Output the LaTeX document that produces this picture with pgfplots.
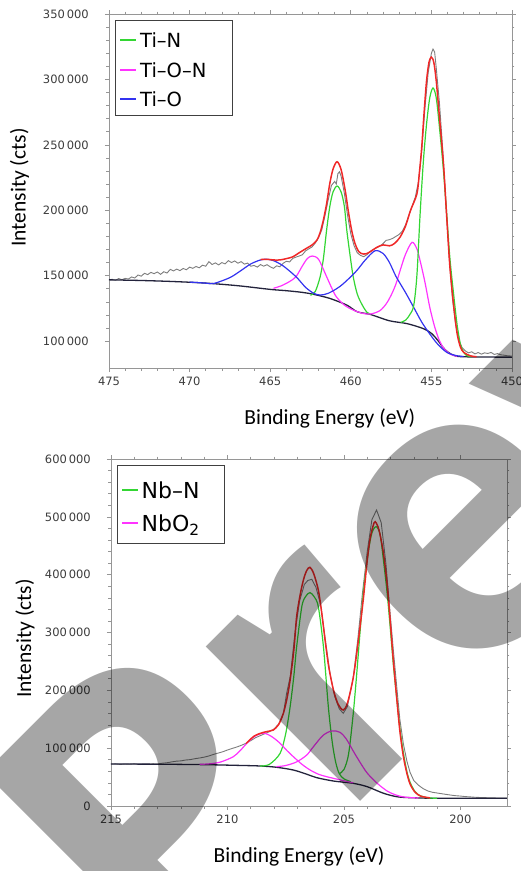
\documentclass[border=0pt]{standalone}
\usepackage{fontspec}
\setmainfont{Carlito}
\newfontfamily\tickfont{DejaVu Sans}
\newfontfamily\legfont{DejaVu Sans}
\newfontfamily\wmfont{Open Sans}
\usepackage{pgfplots}
\pgfplotsset{compat=1.18}

\definecolor{fitgreen}{RGB}{51,214,51}
\definecolor{fitmag}{RGB}{255,51,255}
\definecolor{fitblue}{RGB}{51,51,240}
\definecolor{fitred}{RGB}{240,40,40}
\definecolor{rawgray}{RGB}{125,125,125}
\definecolor{bgline}{RGB}{35,35,60}
\definecolor{axisgray}{RGB}{150,150,150}
\definecolor{ticktext}{RGB}{60,60,60}

\pgfplotsset{
  xps/.style={
    scale only axis,
    x dir=reverse,
    axis line style={draw=axisgray, line width=0.8pt},
    tick align=outside,
    xtick pos=both, ytick pos=both,
    major tick length=4pt, minor tick length=2.5pt,
    tick style={draw=axisgray, line width=0.6pt},
    minor x tick num=4, minor y tick num=4,
    ticklabel style={font=\tickfont\fontsize{11.5}{13}\selectfont, text=ticktext, inner sep=0pt},
    yticklabel style={xshift=-16pt},
    xticklabel style={yshift=-5pt},
    scaled y ticks=false,
    /pgf/number format/fixed,
    /pgf/number format/1000 sep={\,},
    /pgf/number format/assume math mode=true,
    label style={font=\fontsize{21.5}{23}\selectfont},
  },
}
\tikzset{
  rawline/.style={rawgray, line width=0.9pt},
  bgfit/.style={bgline, line width=1.3pt, smooth},
  comp/.style={#1, line width=1.2pt, smooth},
  envfit/.style={fitred, line width=1.5pt, smooth},
  legbox/.style={draw=black!75, line width=0.8pt, fill=white},
  legline/.style={#1, line width=1.3pt},
}

\begin{document}
\begin{tikzpicture}
\useasboundingbox (0pt,0pt) rectangle (520pt,-871pt);

% ---------------- Ti 2p ----------------
\begin{axis}[xps, name=ti,
  at={(109pt,-14pt)}, anchor=north west,
  width=403pt, height=354pt,
  xmin=450, xmax=475, ymin=79400, ymax=350000,
  xtick={450,455,...,475},
  ytick={100000,150000,...,350000},
  xlabel={Binding Energy (eV)},
  xlabel style={at={(axis description cs:0.548,0)}, anchor=center, yshift=-50.5pt},
  ylabel={Intensity (cts)},
  ylabel style={at={(axis description cs:-0.222,0.51)}, anchor=center},
]
\addplot[rawline] coordinates {
(475.0,146800)(474.8,147200)(474.6,146500)(474.4,147800)(474.2,146900)(474.0,147900)
(473.8,147400)(473.6,149000)(473.4,148200)(473.2,150500)(473.0,149600)(472.8,151800)
(472.6,150800)(472.4,152500)(472.2,151500)(472.0,152800)(471.8,151000)(471.6,153000)
(471.4,152000)(471.2,154800)(471.0,153600)(470.8,155000)(470.6,153800)(470.4,155500)
(470.2,154500)(470.0,156500)(469.8,155600)(469.6,157000)(469.4,156000)(469.2,158000)
(469.0,157200)(468.8,160700)(468.6,158500)(468.4,159800)(468.2,158200)(468.0,160000)
(467.8,159000)(467.6,161500)(467.4,160000)(467.2,161200)(467.0,159500)(466.8,160700)
(466.6,158800)(466.4,159600)(466.2,157200)(466.0,157800)(465.8,156500)(465.6,158500)
(465.4,157200)(465.2,158400)(465.0,156800)(464.8,155600)(464.6,157500)(464.4,156800)
(464.2,159400)(464.0,161000)(463.8,160500)(463.6,163200)(463.4,164200)(463.2,165000)
(463.0,166000)(462.8,169000)(462.6,170500)(462.4,172000)(462.2,175000)(462.0,179000)
(461.8,185000)(461.6,196000)(461.4,208000)(461.2,219000)(461.0,222000)(460.9,220000)
(460.8,228000)(460.7,229400)(460.6,226000)(460.4,213000)(460.2,196000)(460.0,182000)
(459.8,173000)(459.6,167500)(459.4,165500)(459.2,164500)(459.0,166000)(458.8,168500)
(458.6,170000)(458.4,171500)(458.2,172500)(458.0,174500)(457.8,177000)(457.6,177500)
(457.4,178500)(457.2,180000)(457.0,181500)(456.8,184000)(456.6,189000)(456.4,196000)
(456.2,203000)(456.0,210000)(455.8,222000)(455.6,245000)(455.4,278000)(455.2,305000)
(455.0,320000)(454.9,323200)(454.8,321000)(454.7,309000)(454.5,282000)(454.3,247000)
(454.1,205000)(453.9,165000)(453.7,133000)(453.5,113000)(453.3,101000)(453.1,95000)
(452.9,92500)(452.7,91000)(452.5,91800)(452.3,90200)(452.1,91200)(451.9,90000)
(451.7,91000)(451.5,90500)(451.3,91300)(451.1,89800)(450.9,90400)(450.7,89500)
(450.5,89200)(450.3,88800)(450.0,88500)
};
\addplot[bgfit] coordinates {
(475,146800)(473,146300)(471,145500)(469,144300)(467,142300)(465,139500)(464,138500)
(463,137200)(462.3,135700)(461.3,132600)(460.25,127500)(459.6,122400)(458.8,120400)
(457.6,115500)(456.5,113300)(455.5,109500)(455,105900)(454.6,100500)(454.3,95500)
(454,91800)(453.6,89000)(453.2,88100)(452,87800)(450,87700)
};
\addplot[comp=fitgreen] coordinates {
(462.5,135000)(462.2,138000)(461.9,149200)(461.7,163000)(461.5,184900)(461.3,203000)
(461.1,214000)(460.85,218500)(460.6,214000)(460.4,203000)(460.25,184900)(460.05,166000)
(459.85,149200)(459.6,136000)(459.3,127800)(459.0,122000)(458.8,120800)
};
\addplot[comp=fitmag] coordinates {
(464.8,140300)(464.3,142300)(463.8,145500)(463.4,149200)(463.0,157500)(462.7,163000)
(462.4,165000)(462.0,162500)(461.5,149200)(461.2,141000)(460.9,133900)(460.4,127500)
(459.85,123700)(459.3,121300)(458.8,120600)(458.2,123200)(457.8,128500)(457.5,135000)
(457.2,143600)(456.9,155500)(456.6,166500)(456.2,175500)(455.9,170500)(455.7,161400)
(455.4,145000)(455.1,125800)(454.8,111000)(454.5,100300)(454.2,94000)(453.85,90100)
(453.4,88300)
};
\addplot[comp=fitblue] coordinates {
(470.0,145100)(469.0,144300)(468.5,144000)(467.5,148500)(466.8,154000)(466.2,159000)
(465.6,162000)(465.2,162500)(464.8,161500)(464.2,157500)(463.4,149200)(462.8,141000)
(462.3,136500)(461.9,135200)(461.4,136500)(460.7,141500)(460.1,148000)(459.6,154300)
(459.1,162000)(458.5,169000)(458.0,167000)(457.6,160000)(457.2,149500)(456.6,137000)
(456.1,125800)(455.6,114500)(455.1,105400)(454.6,97500)(454.05,91400)(453.5,89000)
(453.0,88200)
};
\addplot[comp=fitgreen] coordinates {
(456.9,114300)(456.6,116000)(456.35,120000)(456.1,127000)(455.9,150000)(455.7,197100)
(455.5,237000)(455.3,265900)(455.1,286000)(454.9,293400)(454.7,286000)(454.5,263400)
(454.25,230000)(454.05,197100)(453.85,163000)(453.6,133400)(453.4,112000)(453.2,97700)
(453.0,91500)(452.8,88800)(452.5,88000)
};
\addplot[envfit] coordinates {
(465.6,162300)(465.2,162500)(464.8,162000)(464.4,162000)(464.0,163000)(463.6,164400)
(463.2,167500)(462.75,170900)(462.4,173500)(462.1,177200)(461.9,183000)(461.7,192500)
(461.5,205000)(461.3,220600)(461.1,231500)(460.85,237100)(460.6,231000)(460.35,215400)
(460.15,199000)(459.95,184900)(459.75,175000)(459.5,168300)(459.2,166500)(458.9,167500)
(458.4,171500)(458.0,173500)(457.6,172800)(457.3,174500)(456.95,179300)(456.6,188000)
(456.3,199700)(455.9,212400)(455.75,228000)(455.6,248100)(455.45,275000)(455.3,299000)
(455.15,313000)(455.0,317000)(454.85,313000)(454.7,299000)(454.5,271000)(454.25,235300)
(454.05,195000)(453.85,156400)(453.6,125000)(453.4,105400)(453.2,95500)(453.0,91400)
(452.6,88800)(452.2,88000)
};
\end{axis}

% legend, Ti 2p
\begin{scope}[shift={(ti.north west)}, every node/.style={anchor=base west, inner sep=0pt,
    font=\legfont\fontsize{19.5}{20}\selectfont}]
  \draw[legbox] (6pt,-6.7pt) rectangle (123pt,-101pt);
  \draw[legline=fitgreen] (11pt,-26pt) -- (27pt,-26pt);
  \draw[legline=fitmag]   (11pt,-56pt) -- (27pt,-56pt);
  \draw[legline=fitblue]  (11pt,-85pt) -- (27pt,-85pt);
  \node at (31pt,-33.2pt) {Ti–N};
  \node at (31pt,-63.2pt) {Ti–O–N};
  \node at (31pt,-92.2pt) {Ti–O};
\end{scope}

% ---------------- Nb 3d ----------------
\begin{axis}[xps, name=nb,
  at={(111pt,-459pt)}, anchor=north west,
  width=396pt, height=347pt,
  xmin=198, xmax=215, ymin=0, ymax=600000,
  xtick={200,205,210,215},
  ytick={0,100000,...,600000},
  xlabel={Binding Energy (eV)},
  xlabel style={at={(axis description cs:0.475,0)}, anchor=center, yshift=-50.5pt},
  ylabel={Intensity (cts)},
  ylabel style={at={(axis description cs:-0.217,0.483)}, anchor=center},
]
\addplot[rawline] coordinates {
(215.0,72500)(214.8,72800)(214.6,71900)(214.4,72600)(214.2,72200)(214.0,72900)
(213.8,71800)(213.6,72500)(213.4,72300)(213.2,73200)(213.0,72800)(212.8,74000)
(212.6,74800)(212.4,76200)(212.2,77500)(212.0,78000)(211.8,79500)(211.6,80200)
(211.4,81800)(211.2,83000)(211.0,84500)(210.8,86500)(210.6,89200)(210.4,91500)
(210.2,93800)(210.0,96800)(209.8,99500)(209.6,102000)(209.4,105000)(209.2,108500)
(209.0,113000)(208.8,118000)(208.6,121500)(208.4,125000)(208.2,128500)(208.0,133000)
(207.8,142000)(207.6,160000)(207.46,194900)(207.3,225000)(207.1,300000)(206.9,355000)
(206.7,383000)(206.55,390000)(206.38,392000)(206.2,378000)(206.0,348000)(205.8,288000)
(205.6,230000)(205.4,190000)(205.2,168000)(205.03,160300)(204.85,172000)(204.6,222000)
(204.4,290000)(204.2,370000)(204.0,440000)(203.8,495000)(203.6,511800)(203.4,490000)
(203.2,420000)(203.02,335000)(202.88,270000)(202.73,205000)(202.6,150000)(202.45,108000)
(202.3,78000)(202.16,58000)(202.0,44000)(201.8,36000)(201.6,30000)(201.4,26000)
(201.2,23700)(201.0,22500)(200.8,21200)(200.6,20000)(200.4,18800)(200.2,17800)
(200.0,17200)(199.8,16300)(199.6,15800)(199.4,15200)(199.2,14800)(199.0,14500)
(198.6,14000)(198.3,13800)(198.0,13600)
};
\addplot[bgfit] coordinates {
(215,72600)(213,72300)(211,71500)(209.5,70200)(208.6,69200)(207.9,67000)(207.17,62200)
(206.6,55000)(206.17,49000)(205.45,43200)(204.6,39200)(204.0,33400)(203.3,22000)
(202.73,16100)(202.16,14400)(201,13400)(198,13300)
};
\addplot[comp=fitgreen] coordinates {
(208.6,69000)(208.2,72000)(207.74,91100)(207.5,125000)(207.31,171700)(207.15,225000)
(207.03,275400)(206.81,344600)(206.65,362000)(206.46,369000)(206.28,362000)(206.1,344600)
(205.88,275400)(205.67,171700)(205.5,110000)(205.35,75000)(205.2,56000)(205.0,47000)
(204.7,42000)
};
\addplot[comp=fitmag] coordinates {
(211.2,72000)(210.75,73000)(210.3,76000)(209.75,85200)(209.45,96000)(209.17,108400)
(208.85,120000)(208.46,126000)(208.1,120000)(207.74,108400)(207.45,96000)(207.17,85200)
(206.8,72000)(206.45,62200)(206.1,55000)(205.74,50700)(205.2,45500)(204.6,40000)
};
\addplot[comp=fitgreen] coordinates {
(205.2,56000)(205.0,63000)(204.8,90000)(204.6,160000)(204.45,229000)(204.3,305000)
(204.15,375000)(203.95,440000)(203.8,472000)(203.62,483000)(203.45,470000)(203.31,427000)
(203.15,370000)(203.02,311700)(202.88,245000)(202.73,185000)(202.6,135000)(202.45,92800)
(202.3,60000)(202.16,41000)(201.95,25000)(201.73,17800)(201.4,14200)(201.0,13400)
};
\addplot[comp=fitmag] coordinates {
(207.9,68000)(207.5,70000)(207.03,76300)(206.6,88000)(206.31,102500)(205.9,122000)
(205.52,129900)(205.17,127400)(204.9,116000)(204.6,95000)(204.3,75000)(204.02,57900)
(203.7,44000)(203.45,35100)(203.15,26000)(202.88,20700)(202.6,17000)(202.3,15000)
(201.8,13800)
};
\addplot[envfit] coordinates {
(209.2,108000)(208.85,121000)(208.46,127300)(208.2,129500)(208.03,131400)(207.8,141000)
(207.6,160300)(207.45,185000)(207.31,217900)(207.15,270000)(207.03,327300)(206.88,365000)
(206.74,390800)(206.6,407000)(206.46,412700)(206.3,402000)(206.1,373500)(205.95,333000)
(205.81,287000)(205.65,240000)(205.45,200600)(205.25,176000)(205.03,166000)(204.85,178000)
(204.6,222000)(204.4,280000)(204.17,357000)(204.0,425000)(203.88,461600)(203.75,484000)
(203.66,491600)(203.5,478000)(203.31,438600)(203.15,385000)(203.02,323300)(202.88,252000)
(202.73,185000)(202.6,130000)(202.45,86000)(202.3,57000)(202.16,38000)(201.95,24000)
(201.7,17000)(201.3,14000)
};
\end{axis}

% legend, Nb 3d
\begin{scope}[shift={(nb.north west)}, every node/.style={anchor=base west, inner sep=0pt,
    font=\legfont\fontsize{22}{22}\selectfont}]
  \draw[legbox] (6pt,-6pt) rectangle (113pt,-84pt);
  \draw[legline=fitgreen] (11pt,-31pt) -- (27pt,-31pt);
  \draw[legline=fitmag]   (11pt,-64pt) -- (27pt,-64pt);
  \node at (30.5pt,-39pt) {Nb–N};
  \node at (30.5pt,-72pt) {NbO\textsubscript{2}};
\end{scope}

% "Preview" watermark laid over the page
\node[rotate=45, anchor=base west, inner sep=0pt, text=black, text opacity=0.35,
  font=\wmfont\bfseries\fontsize{400}{400}\selectfont] at (161pt,-1001pt) {Preview};
\end{tikzpicture}
\end{document}
